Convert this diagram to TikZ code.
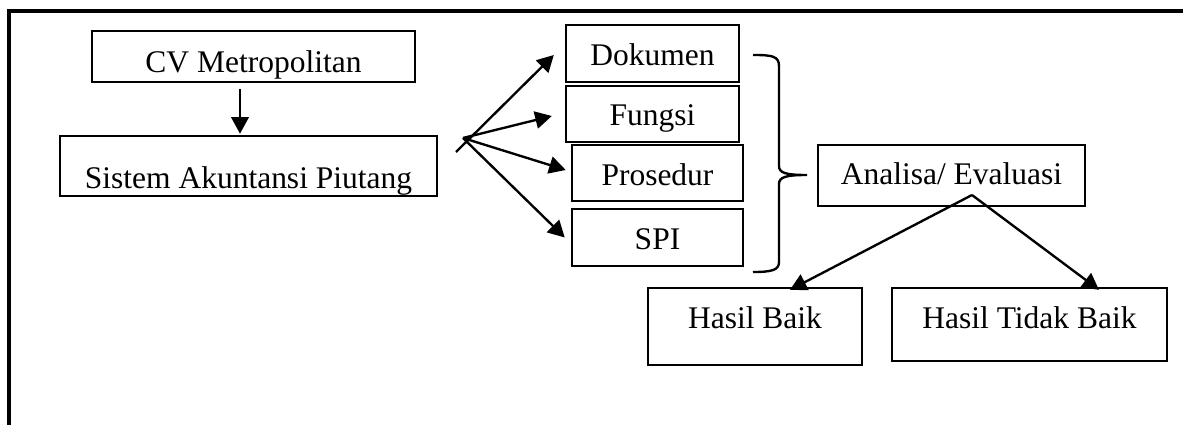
\documentclass[tikz,border=0pt]{standalone}
\usepackage{fontspec}
\setmainfont{Liberation Serif}
\usetikzlibrary{arrows.meta}
\usetikzlibrary{calc}

\tikzset{
  box/.style n args={3}{draw, line width=0.9pt, inner sep=0pt, text depth=0pt,
    minimum width=#1, minimum height=#2, text height=#3,
    font=\fontsize{12}{14}\selectfont},
  arr/.style={-{Triangle[length=6.3pt,width=6.6pt]}, line width=0.9pt},
}

\begin{document}
\begin{tikzpicture}[x=0.381pt, y=-0.381pt]
            \useasboundingbox (0,0) rectangle (1183,425);
            \draw[line width=1.3pt] (1183,11) -- (9,11) -- (9,425);

            % left column
            \node[box={123.1pt}{19.4pt}{12.3pt}] (cv) at (253.5,56.5) {CV Metropolitan};
            \node[box={143.6pt}{22.9pt}{16.8pt}] (sistem) at (248.5,166) {Sistem Akuntansi Piutang};

            % the four parts
            \node[box={65.9pt}{21.7pt}{9.3pt}] (dok) at (652.5,53.5) {Dokumen};
            \node[box={65.9pt}{21.3pt}{9.1pt}] (fun) at (652.5,114) {Fungsi};
            \node[box={65.2pt}{21.3pt}{9.7pt}] (pro) at (657.5,173) {Prosedur};
            \node[box={65.2pt}{21.7pt}{9.5pt}] (spi) at (657.5,237.5) {SPI};

            % evaluation and results
            \node[box={101.7pt}{23.2pt}{7.2pt}] (ana) at (951.5,175.5) {Analisa/ Evaluasi};
            \node[box={81.5pt}{29.3pt}{1.9pt}] (baik) at (755,326.5) {Hasil Baik};
            \node[box={104.8pt}{27.8pt}{3.4pt}] (tidak) at (1029.5,324.5) {Hasil Tidak Baik};

            \draw[arr] ($(cv.south)+(-13.5,6)$) -- ($(sistem.north)+(-8.5,-1)$);

            \coordinate (fan) at (463,138);
            \coordinate (fantail) at (456,152);
            \draw[arr] (fantail) -- ($(dok.west)+(-11,1.5)$);
            \draw[arr] (fan) -- ($(fun.west)+(-13,2)$);
            \draw[arr] (fan) -- ($(pro.west)+(-5,-3)$);
            \draw[arr] (fan) -- ($(spi.west)+(-6,0)$);

            % brace
            \draw[line width=0.9pt] (753,55) .. controls (772,55) and (779,56) .. (779,66)
                -- (779,166) .. controls (779,173) and (786,175) .. (807,175)
                .. controls (786,175) and (779,177) .. (779,184)
                -- (779,262) .. controls (779,270) and (772,272) .. (753,272);

            \coordinate (split) at (972,195);
            \draw[arr] (split) -- ($(baik.north)+(35,3)$);
            \draw[arr] (split) -- ($(tidak.north)+(69.5,3)$);
        \end{tikzpicture}
\end{document}
